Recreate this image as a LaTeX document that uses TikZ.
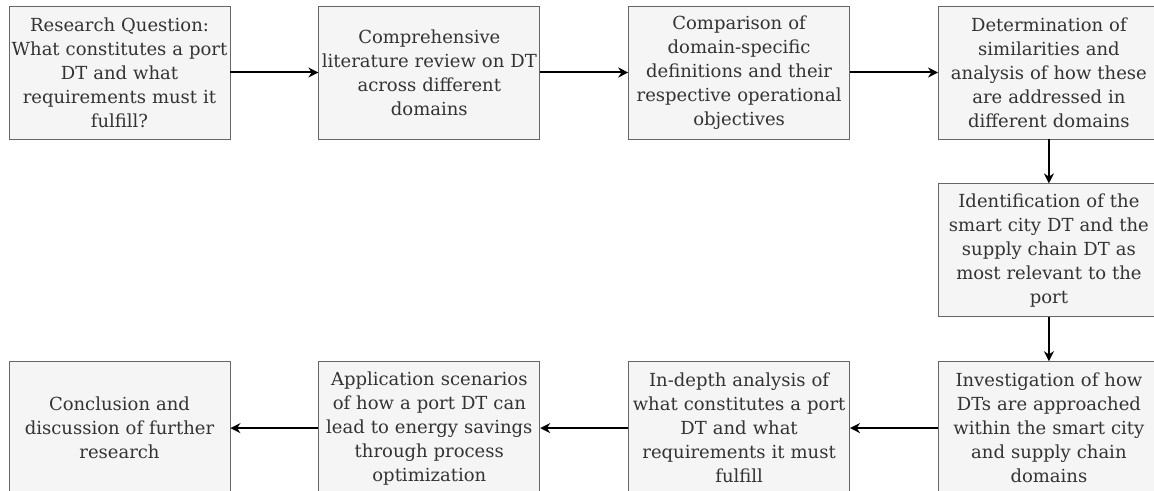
\documentclass[tikz,border=0pt]{standalone}
\usepackage{fontspec}
\setmainfont{DejaVu Serif}
\usetikzlibrary{positioning,arrows.meta}
\definecolor{boxfill}{HTML}{F5F5F5}
\definecolor{boxline}{HTML}{666666}
\definecolor{boxtext}{HTML}{333333}
\begin{document}
\begin{tikzpicture}[
    box/.style={draw=boxline, fill=boxfill, text=boxtext, text width=108pt, minimum width=110.5pt,
        minimum height=66.5pt, align=center, inner xsep=1.25pt, inner ysep=1pt,
        font=\fontsize{9}{12}\selectfont},
    flow/.style={line width=1pt, -{Stealth[length=5pt,width=5pt]}}
]
    \centering
    \useasboundingbox (0,0) rectangle (577pt,-245.5pt);
    % top row
    \node[box] (question) at (59.75pt,-36.25pt) {Research Question:\\What constitutes a port\\DT and what\\requirements must it\\fulfill?};
    \node[box, right=44pt of question] (review) {Comprehensive\\literature review on DT\\across different\\domains};
    \node[box, right=44pt of review] (compare) {Comparison of\\domain-specific\\definitions and their\\respective operational\\objectives};
    \node[box, right=44pt of compare] (similar) {Determination of\\similarities and\\analysis of how these\\are addressed in\\different domains};
    % right column
    \node[box, below=22pt of similar] (identify) {Identification of the\\smart city DT and the\\supply chain DT as\\most relevant to the\\port};
    \node[box, below=22pt of identify] (investigate) {Investigation of how\\DTs are approached\\within the smart city\\and supply chain\\domains};
    % bottom row
    \node[box, left=44pt of investigate] (indepth) {In-depth analysis of\\what constitutes a port\\DT and what\\requirements it must\\fulfill};
    \node[box, left=44pt of indepth] (scenarios) {Application scenarios\\of how a port DT can\\lead to energy savings\\through process\\optimization};
    \node[box, left=44pt of scenarios] (conclusion) {Conclusion and\\discussion of further\\research};

    \draw[flow] (question) -- (review);
    \draw[flow] (review) -- (compare);
    \draw[flow] (compare) -- (similar);
    \draw[flow] (similar) -- (identify);
    \draw[flow] (identify) -- (investigate);
    \draw[flow] (investigate) -- (indepth);
    \draw[flow] (indepth) -- (scenarios);
    \draw[flow] (scenarios) -- (conclusion);
\end{tikzpicture}
\end{document}
